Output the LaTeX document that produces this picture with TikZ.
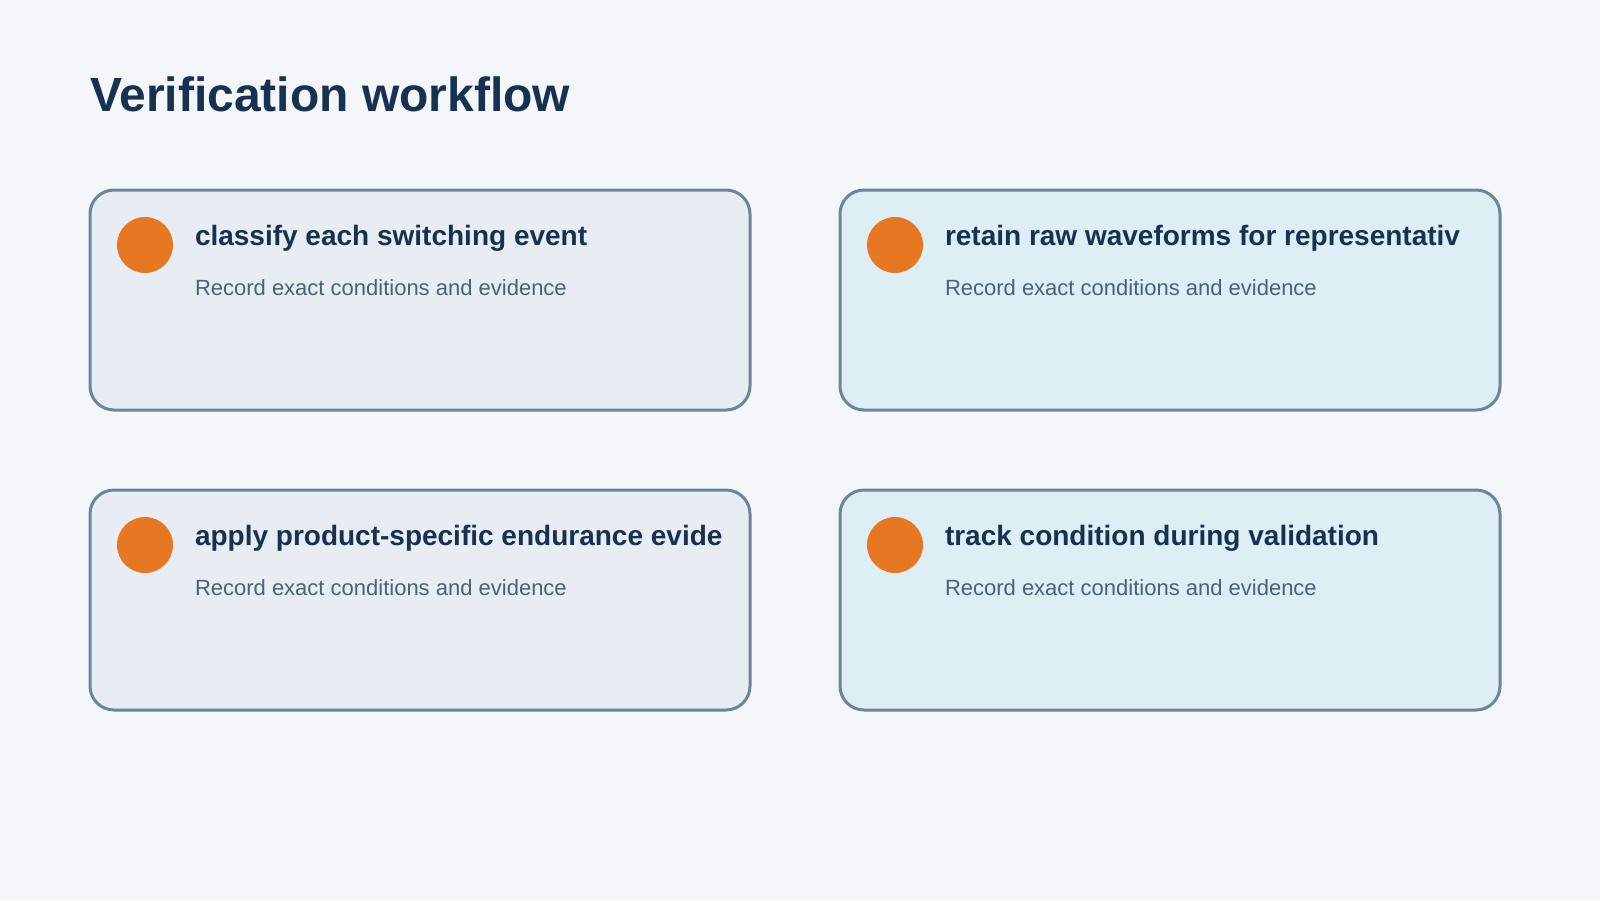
\documentclass[tikz,border=0pt]{standalone}
\usepackage{fontspec}
\setmainfont{Liberation Sans}
\usepackage{xcolor}
\usepackage{tikz}
\usetikzlibrary{positioning}

\definecolor{pagebg}{HTML}{F3F7FA}
\definecolor{inkblue}{HTML}{173250}
\definecolor{notegrey}{HTML}{4A6177}
\definecolor{cardline}{HTML}{6C859C}
\definecolor{cardgrey}{HTML}{E8EDF4}
\definecolor{cardblue}{HTML}{DDEEF4}
\definecolor{dotorange}{HTML}{E87722}

\begin{document}
\begin{tikzpicture}[x=1pt,y=-1pt,
 every node/.style={inner sep=0pt,outer sep=0pt},
 title/.style={anchor=base west,text=inkblue,font=\fontsize{48}{56}\selectfont\bfseries},
 card/.style={rounded corners=24pt,draw=cardline,line width=3pt,minimum width=660pt,minimum height=220pt},
 cardA/.style={card,fill=cardgrey},
 cardB/.style={card,fill=cardblue},
 dot/.style={circle,fill=dotorange,minimum size=56pt},
 head/.style={anchor=base west,text=inkblue,font=\fontsize{28}{32}\selectfont\bfseries},
 note/.style={anchor=base west,text=notegrey,font=\fontsize{22}{26}\selectfont}]
\useasboundingbox[fill=pagebg] (0,0) rectangle (1600,900);
\node[title] (title) at (90,111) {Verification workflow};
% top row
\node[cardA] (card1) at (420,300) {};
\node[dot] (dot1) at (145,245) {};
\node[head] (head1) at (195,245) {classify each switching event};
\node[note] (note1) at (195,295) {Record exact conditions and evidence};
\node[cardB] (card2) at (1170,300) {};
\node[dot] (dot2) at (895,245) {};
\node[head] (head2) at (945,245) {retain raw waveforms for representativ};
\node[note] (note2) at (945,295) {Record exact conditions and evidence};
% bottom row
\node[cardA] (card3) at (420,600) {};
\node[dot] (dot3) at (145,545) {};
\node[head] (head3) at (195,545) {apply product-specific endurance evide};
\node[note] (note3) at (195,595) {Record exact conditions and evidence};
\node[cardB] (card4) at (1170,600) {};
\node[dot] (dot4) at (895,545) {};
\node[head] (head4) at (945,545) {track condition during validation};
\node[note] (note4) at (945,595) {Record exact conditions and evidence};
\end{tikzpicture}
\end{document}
